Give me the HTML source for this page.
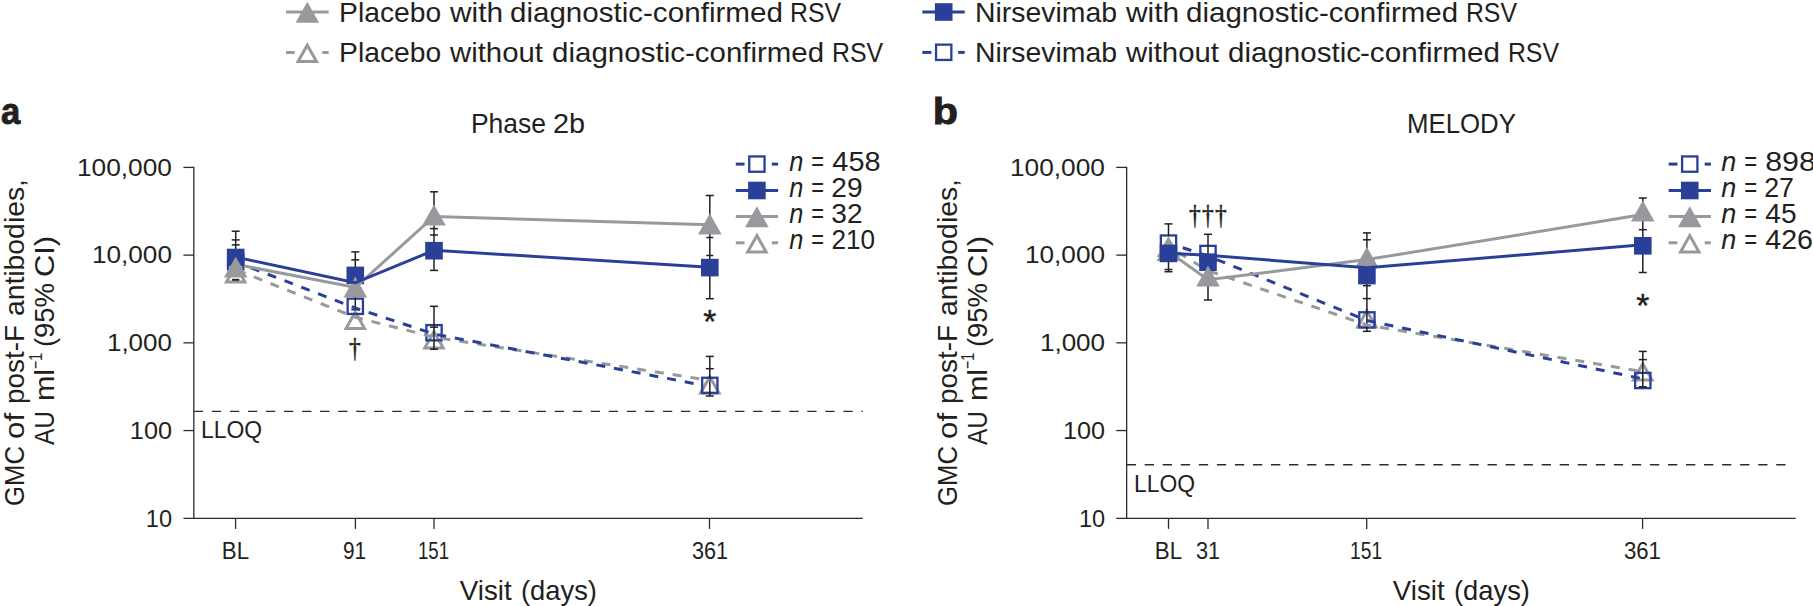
<!DOCTYPE html>
<html lang="en"><head><meta charset="utf-8"><title>GMC of post-F antibodies</title>
<style>html,body{margin:0;padding:0;background:#fff}svg{display:block}text{font-family:"Liberation Sans",sans-serif;fill:#231f20}</style>
</head><body>
<svg width="1813" height="606" viewBox="0 0 1813 606">
<rect width="1813" height="606" fill="#fff"/>
<line x1="286" y1="11.9" x2="328.6" y2="11.9" stroke="#98999c" stroke-width="3.0"/><polygon points="307.30,1.70 319.10,22.70 295.50,22.70" fill="#98999c"/><line x1="286" y1="52.5" x2="294.7" y2="52.5" stroke="#98999c" stroke-width="3.0"/><line x1="322.3" y1="52.5" x2="328.6" y2="52.5" stroke="#98999c" stroke-width="3.0"/><polygon points="307.30,45.16 316.54,61.60 298.06,61.60" fill="none" stroke="#98999c" stroke-width="3.0" stroke-linejoin="miter"/><line x1="922.3" y1="11.9" x2="964.7" y2="11.9" stroke="#2a3f98" stroke-width="3.0"/><rect x="934.90" y="3.20" width="17.6" height="17.6" fill="#2a3f98"/><line x1="922.3" y1="52.4" x2="931.4" y2="52.4" stroke="#2a3f98" stroke-width="3.0"/><line x1="958.2" y1="52.4" x2="964.7" y2="52.4" stroke="#2a3f98" stroke-width="3.0"/><rect x="936.05" y="44.65" width="15.30" height="15.30" fill="none" stroke="#2a3f98" stroke-width="2.3"/>
<g stroke="#2e2a2b" stroke-width="1.3" fill="none"><line x1="193.80" y1="166.8" x2="193.80" y2="518.3"/><line x1="183.40" y1="518.3" x2="862.80" y2="518.3"/><line x1="183.40" y1="167.40" x2="193.80" y2="167.40"/><line x1="183.40" y1="255.12" x2="193.80" y2="255.12"/><line x1="183.40" y1="342.84" x2="193.80" y2="342.84"/><line x1="183.40" y1="430.56" x2="193.80" y2="430.56"/><line x1="235.60" y1="518.3" x2="235.60" y2="528.9"/><line x1="355.40" y1="518.3" x2="355.40" y2="528.9"/><line x1="434.00" y1="518.3" x2="434.00" y2="528.9"/><line x1="709.50" y1="518.3" x2="709.50" y2="528.9"/><line x1="193.80" y1="411.4" x2="862.80" y2="411.4" stroke-width="1.4" stroke-dasharray="9.3 8.744"/></g>
<g stroke="#2e2a2b" stroke-width="1.3" fill="none"><line x1="1126.65" y1="166.8" x2="1126.65" y2="518.3"/><line x1="1116.25" y1="518.3" x2="1795.65" y2="518.3"/><line x1="1116.25" y1="167.40" x2="1126.65" y2="167.40"/><line x1="1116.25" y1="255.12" x2="1126.65" y2="255.12"/><line x1="1116.25" y1="342.84" x2="1126.65" y2="342.84"/><line x1="1116.25" y1="430.56" x2="1126.65" y2="430.56"/><line x1="1168.50" y1="518.3" x2="1168.50" y2="528.9"/><line x1="1208.00" y1="518.3" x2="1208.00" y2="528.9"/><line x1="1366.70" y1="518.3" x2="1366.70" y2="528.9"/><line x1="1642.60" y1="518.3" x2="1642.60" y2="528.9"/><line x1="1126.65" y1="464.7" x2="1793.75" y2="464.7" stroke-width="1.4" stroke-dasharray="9.3 8.744"/></g>
<polygon points="235.70,265.66 244.94,282.10 226.46,282.10" fill="none" stroke="#98999c" stroke-width="3.0" stroke-linejoin="miter"/><polygon points="355.30,311.96 364.54,328.40 346.06,328.40" fill="none" stroke="#98999c" stroke-width="3.0" stroke-linejoin="miter"/><polygon points="434.00,331.46 443.24,347.90 424.76,347.90" fill="none" stroke="#98999c" stroke-width="3.0" stroke-linejoin="miter"/><polygon points="709.80,376.66 719.04,393.10 700.56,393.10" fill="none" stroke="#98999c" stroke-width="3.0" stroke-linejoin="miter"/><rect x="228.05" y="254.15" width="15.30" height="15.30" fill="none" stroke="#2a3f98" stroke-width="2.3"/><rect x="347.65" y="298.65" width="15.30" height="15.30" fill="none" stroke="#2a3f98" stroke-width="2.3"/><rect x="426.35" y="325.05" width="15.30" height="15.30" fill="none" stroke="#2a3f98" stroke-width="2.3"/><rect x="702.15" y="377.75" width="15.30" height="15.30" fill="none" stroke="#2a3f98" stroke-width="2.3"/><g stroke="#231f20" stroke-width="1.5"><line x1="235.70" y1="231.20" x2="235.70" y2="250.00"/><line x1="231.70" y1="231.20" x2="239.70" y2="231.20"/><line x1="231.70" y1="239.90" x2="239.70" y2="239.90"/><line x1="231.70" y1="244.90" x2="239.70" y2="244.90"/><line x1="232.1" y1="279.8" x2="239.29999999999998" y2="279.8" stroke-width="2"/><line x1="355.30" y1="251.90" x2="355.30" y2="268.00"/><line x1="351.30" y1="251.90" x2="359.30" y2="251.90"/><line x1="351.30" y1="259.90" x2="359.30" y2="259.90"/><line x1="355.30" y1="296.00" x2="355.30" y2="309.70"/><line x1="351.30" y1="309.70" x2="359.30" y2="309.70"/><line x1="434.00" y1="191.80" x2="434.00" y2="207.00"/><line x1="430.00" y1="191.80" x2="438.00" y2="191.80"/><line x1="434.00" y1="225.40" x2="434.00" y2="243.00"/><line x1="430.00" y1="228.60" x2="438.00" y2="228.60"/><line x1="430.00" y1="235.00" x2="438.00" y2="235.00"/><line x1="434.00" y1="258.00" x2="434.00" y2="270.40"/><line x1="430.00" y1="270.40" x2="438.00" y2="270.40"/><line x1="434.00" y1="306.30" x2="434.00" y2="349.20"/><line x1="430.00" y1="306.30" x2="438.00" y2="306.30"/><line x1="430.00" y1="327.20" x2="438.00" y2="327.20"/><line x1="430.00" y1="349.20" x2="438.00" y2="349.20"/><line x1="709.80" y1="195.50" x2="709.80" y2="216.00"/><line x1="705.80" y1="195.50" x2="713.80" y2="195.50"/><line x1="709.80" y1="233.00" x2="709.80" y2="260.00"/><line x1="706.30" y1="237.50" x2="713.30" y2="237.50"/><line x1="706.30" y1="255.50" x2="713.30" y2="255.50"/><line x1="709.80" y1="275.00" x2="709.80" y2="298.70"/><line x1="705.80" y1="298.70" x2="713.80" y2="298.70"/><line x1="709.80" y1="356.40" x2="709.80" y2="396.00"/><line x1="705.80" y1="356.40" x2="713.80" y2="356.40"/><line x1="705.80" y1="368.70" x2="713.80" y2="368.70"/><line x1="705.80" y1="396.00" x2="713.80" y2="396.00"/></g><rect x="226.90" y="248.70" width="17.6" height="17.6" fill="#2a3f98"/><polygon points="235.70,256.40 247.50,277.40 223.90,277.40" fill="#98999c"/><rect x="346.50" y="266.60" width="17.6" height="17.6" fill="#2a3f98"/><polygon points="355.30,276.60 367.10,297.60 343.50,297.60" fill="#98999c"/><polygon points="434.00,204.60 445.80,225.60 422.20,225.60" fill="#98999c"/><rect x="425.20" y="241.90" width="17.6" height="17.6" fill="#2a3f98"/><polygon points="709.80,213.60 721.60,234.60 698.00,234.60" fill="#98999c"/><rect x="701.00" y="258.80" width="17.6" height="17.6" fill="#2a3f98"/><polyline points="235.70,269.60 355.30,317.30 434.00,337.10 709.80,380.40" fill="none" stroke="#98999c" stroke-width="3.0" stroke-dasharray="9 9" stroke-dashoffset="16.5"/><polyline points="244.50,265.29 355.30,308.00 434.00,334.00 701.00,384.82" fill="none" stroke="#2a3f98" stroke-width="3.0" stroke-dasharray="9 9" stroke-dashoffset="11.13"/><polyline points="244.30,266.00 355.30,287.50 434.00,216.50 709.80,224.80" fill="none" stroke="#98999c" stroke-width="3.0"/><polyline points="244.30,258.90 355.30,282.80 434.00,250.30 709.80,267.20" fill="none" stroke="#2a3f98" stroke-width="3.0"/>
<polygon points="1168.50,239.16 1177.74,255.60 1159.26,255.60" fill="none" stroke="#98999c" stroke-width="3.0" stroke-linejoin="miter"/><polygon points="1366.90,310.66 1376.14,327.10 1357.66,327.10" fill="none" stroke="#98999c" stroke-width="3.0" stroke-linejoin="miter"/><polygon points="1642.80,363.66 1652.04,380.10 1633.56,380.10" fill="none" stroke="#98999c" stroke-width="3.0" stroke-linejoin="miter"/><polygon points="1168.50,240.00 1180.30,261.00 1156.70,261.00" fill="#98999c"/><rect x="1160.85" y="235.45" width="15.30" height="15.30" fill="none" stroke="#2a3f98" stroke-width="2.3"/><rect x="1200.35" y="245.85" width="15.30" height="15.30" fill="none" stroke="#2a3f98" stroke-width="2.3"/><rect x="1359.25" y="312.25" width="15.30" height="15.30" fill="none" stroke="#2a3f98" stroke-width="2.3"/><rect x="1635.15" y="372.85" width="15.30" height="15.30" fill="none" stroke="#2a3f98" stroke-width="2.3"/><g stroke="#231f20" stroke-width="1.5"><line x1="1168.50" y1="223.90" x2="1168.50" y2="236.00"/><line x1="1164.50" y1="223.90" x2="1172.50" y2="223.90"/><line x1="1168.50" y1="260.00" x2="1168.50" y2="271.70"/><line x1="1164.50" y1="269.50" x2="1172.50" y2="269.50"/><line x1="1164.50" y1="271.70" x2="1172.50" y2="271.70"/><line x1="1208.00" y1="234.30" x2="1208.00" y2="255.00"/><line x1="1204.00" y1="234.30" x2="1212.00" y2="234.30"/><line x1="1208.00" y1="285.00" x2="1208.00" y2="300.00"/><line x1="1204.00" y1="300.00" x2="1212.00" y2="300.00"/><line x1="1366.90" y1="232.90" x2="1366.90" y2="249.00"/><line x1="1362.90" y1="232.90" x2="1370.90" y2="232.90"/><line x1="1362.90" y1="239.80" x2="1370.90" y2="239.80"/><line x1="1366.90" y1="283.00" x2="1366.90" y2="331.30"/><line x1="1362.90" y1="285.70" x2="1370.90" y2="285.70"/><line x1="1362.90" y1="298.60" x2="1370.90" y2="298.60"/><line x1="1362.90" y1="331.30" x2="1370.90" y2="331.30"/><line x1="1642.80" y1="198.00" x2="1642.80" y2="203.00"/><line x1="1638.80" y1="198.00" x2="1646.80" y2="198.00"/><line x1="1642.80" y1="220.00" x2="1642.80" y2="238.00"/><line x1="1638.80" y1="229.70" x2="1646.80" y2="229.70"/><line x1="1642.80" y1="253.00" x2="1642.80" y2="272.50"/><line x1="1638.80" y1="272.50" x2="1646.80" y2="272.50"/><line x1="1642.80" y1="351.40" x2="1642.80" y2="386.80"/><line x1="1638.80" y1="351.40" x2="1646.80" y2="351.40"/><line x1="1638.80" y1="359.60" x2="1646.80" y2="359.60"/><line x1="1638.80" y1="386.80" x2="1646.80" y2="386.80"/></g><polyline points="1168.50,246.50 1208.00,270.70 1366.90,325.00 1642.80,371.60" fill="none" stroke="#98999c" stroke-width="3.0" stroke-dasharray="9 9" stroke-dashoffset="6.4"/><polyline points="1177.40,246.00 1208.00,256.00 1366.90,320.50 1642.80,378.90" fill="none" stroke="#2a3f98" stroke-width="3.0" stroke-dasharray="9 9" stroke-dashoffset="12.36"/><polyline points="1168.50,251.60 1208.00,279.80 1366.90,259.60 1642.80,214.60" fill="none" stroke="#98999c" stroke-width="3.0"/><polygon points="1366.90,246.90 1378.70,267.90 1355.10,267.90" fill="#98999c"/><polygon points="1642.80,200.60 1654.60,221.60 1631.00,221.60" fill="#98999c"/><polyline points="1168.50,253.30 1208.00,255.30 1366.90,267.80 1642.80,244.80" fill="none" stroke="#2a3f98" stroke-width="3.0"/><rect x="1159.70" y="244.60" width="17.6" height="17.6" fill="#2a3f98"/><rect x="1199.20" y="253.40" width="17.6" height="17.6" fill="#2a3f98"/><polygon points="1208.00,265.60 1219.80,286.60 1196.20,286.60" fill="#98999c"/><rect x="1358.10" y="266.80" width="17.6" height="17.6" fill="#2a3f98"/><rect x="1634.00" y="237.00" width="17.6" height="17.6" fill="#2a3f98"/>
<line x1="735.8" y1="164.1" x2="744.5999999999999" y2="164.1" stroke="#2a3f98" stroke-width="3.0"/><line x1="771.8000000000001" y1="164.1" x2="778.1" y2="164.1" stroke="#2a3f98" stroke-width="3.0"/><rect x="749.25" y="156.45" width="15.30" height="15.30" fill="none" stroke="#2a3f98" stroke-width="2.3"/><line x1="735.8" y1="190.5" x2="778.1" y2="190.5" stroke="#2a3f98" stroke-width="3.0"/><rect x="748.10" y="181.70" width="17.6" height="17.6" fill="#2a3f98"/><line x1="735.8" y1="216.6" x2="778.1" y2="216.6" stroke="#98999c" stroke-width="3.0"/><polygon points="756.90,206.30 768.70,227.30 745.10,227.30" fill="#98999c"/><line x1="735.8" y1="242.8" x2="744.5999999999999" y2="242.8" stroke="#98999c" stroke-width="3.0"/><line x1="771.8000000000001" y1="242.8" x2="778.1" y2="242.8" stroke="#98999c" stroke-width="3.0"/><polygon points="756.90,235.56 766.14,252.00 747.66,252.00" fill="none" stroke="#98999c" stroke-width="3.0" stroke-linejoin="miter"/>
<line x1="1668.65" y1="164.1" x2="1677.45" y2="164.1" stroke="#2a3f98" stroke-width="3.0"/><line x1="1704.65" y1="164.1" x2="1710.95" y2="164.1" stroke="#2a3f98" stroke-width="3.0"/><rect x="1682.10" y="156.45" width="15.30" height="15.30" fill="none" stroke="#2a3f98" stroke-width="2.3"/><line x1="1668.65" y1="190.5" x2="1710.95" y2="190.5" stroke="#2a3f98" stroke-width="3.0"/><rect x="1680.95" y="181.70" width="17.6" height="17.6" fill="#2a3f98"/><line x1="1668.65" y1="216.6" x2="1710.95" y2="216.6" stroke="#98999c" stroke-width="3.0"/><polygon points="1689.75,206.30 1701.55,227.30 1677.95,227.30" fill="#98999c"/><line x1="1668.65" y1="242.8" x2="1677.45" y2="242.8" stroke="#98999c" stroke-width="3.0"/><line x1="1704.65" y1="242.8" x2="1710.95" y2="242.8" stroke="#98999c" stroke-width="3.0"/><polygon points="1689.75,235.56 1698.99,252.00 1680.51,252.00" fill="none" stroke="#98999c" stroke-width="3.0" stroke-linejoin="miter"/>
<text id="lg1" y="21.50" font-size="27.6" ><tspan id="lg1a" x="339.06" textLength="102.10" lengthAdjust="spacingAndGlyphs" >Placebo</tspan> <tspan id="lg1b" x="450.00" textLength="53.06" lengthAdjust="spacingAndGlyphs" >with</tspan> <tspan id="lg1c" x="510.00" textLength="133.04" lengthAdjust="spacingAndGlyphs" >diagnostic</tspan><tspan id="lg1d" x="643.00" textLength="140.05" lengthAdjust="spacingAndGlyphs" >-confirmed</tspan> <tspan id="lg1e" x="789.96" textLength="51.07" lengthAdjust="spacingAndGlyphs" >RSV</tspan></text>
<text id="lg2" y="61.90" font-size="27.6" ><tspan id="lg2a" x="339.06" textLength="102.10" lengthAdjust="spacingAndGlyphs" >Placebo</tspan> <tspan id="lg2b" x="450.00" textLength="93.00" lengthAdjust="spacingAndGlyphs" >without</tspan> <tspan id="lg2c" x="551.99" textLength="133.03" lengthAdjust="spacingAndGlyphs" >diagnostic</tspan><tspan id="lg2d" x="685.02" textLength="139.06" lengthAdjust="spacingAndGlyphs" >-confirmed</tspan> <tspan id="lg2e" x="831.97" textLength="51.13" lengthAdjust="spacingAndGlyphs" >RSV</tspan></text>
<text id="lg3" y="21.50" font-size="27.6" ><tspan id="lg3a" x="975.02" textLength="141.99" lengthAdjust="spacingAndGlyphs" >Nirsevimab</tspan> <tspan id="lg3b" x="1126.00" textLength="53.08" lengthAdjust="spacingAndGlyphs" >with</tspan> <tspan id="lg3c" x="1185.98" textLength="133.04" lengthAdjust="spacingAndGlyphs" >diagnostic</tspan><tspan id="lg3d" x="1318.99" textLength="139.03" lengthAdjust="spacingAndGlyphs" >-confirmed</tspan> <tspan id="lg3e" x="1465.93" textLength="51.08" lengthAdjust="spacingAndGlyphs" >RSV</tspan></text>
<text id="lg4" y="61.90" font-size="27.6" ><tspan id="lg4a" x="975.02" textLength="141.99" lengthAdjust="spacingAndGlyphs" >Nirsevimab</tspan> <tspan id="lg4b" x="1126.00" textLength="93.00" lengthAdjust="spacingAndGlyphs" >without</tspan> <tspan id="lg4c" x="1227.96" textLength="133.04" lengthAdjust="spacingAndGlyphs" >diagnostic</tspan><tspan id="lg4d" x="1360.00" textLength="140.05" lengthAdjust="spacingAndGlyphs" >-confirmed</tspan> <tspan id="lg4e" x="1507.91" textLength="51.12" lengthAdjust="spacingAndGlyphs" >RSV</tspan></text>
<text id="pa" y="123.80" font-size="37.6" font-weight="bold" stroke="#231f20" stroke-width="0.9"><tspan id="pa0" x="0.91" textLength="19.25" lengthAdjust="spacingAndGlyphs" >a</tspan></text>
<text id="pb" y="123.80" font-size="37.6" font-weight="bold" stroke="#231f20" stroke-width="0.9"><tspan id="pb0" x="932.88" textLength="25.26" lengthAdjust="spacingAndGlyphs" >b</tspan></text>
<text id="ta" y="133.10" font-size="27.6" ><tspan id="ta0" x="470.93" textLength="75.12" lengthAdjust="spacingAndGlyphs" >Phase</tspan> <tspan id="ta1" x="552.98" textLength="32.07" lengthAdjust="spacingAndGlyphs" >2b</tspan></text>
<text id="tb" y="133.10" font-size="27.6" ><tspan id="tb0" x="1406.95" textLength="109.02" lengthAdjust="spacingAndGlyphs" >MELODY</tspan></text>
<text id="xa" y="599.70" font-size="27.6" ><tspan id="xa0" x="459.77" textLength="51.88" lengthAdjust="spacingAndGlyphs" >Visit</tspan> <tspan id="xa1" x="520.96" textLength="76.03" lengthAdjust="spacingAndGlyphs" >(days)</tspan></text>
<text id="xb" y="599.70" font-size="27.6" ><tspan id="xb0" x="1392.80" textLength="51.84" lengthAdjust="spacingAndGlyphs" >Visit</tspan> <tspan id="xb1" x="1454.02" textLength="75.94" lengthAdjust="spacingAndGlyphs" >(days)</tspan></text>
<text id="lqa" y="438.10" font-size="24.2" ><tspan id="lqa0" x="201.04" textLength="61.05" lengthAdjust="spacingAndGlyphs" >LLOQ</tspan></text>
<text id="lqb" y="491.50" font-size="24.2" ><tspan id="lqb0" x="1134.00" textLength="61.06" lengthAdjust="spacingAndGlyphs" >LLOQ</tspan></text>
<text id="ya0" y="175.70" font-size="23.3" ><tspan id="ya0_" x="76.93" textLength="95.09" lengthAdjust="spacingAndGlyphs" >100,000</tspan></text>
<text id="ya1" y="263.42" font-size="23.3" ><tspan id="ya1_" x="91.93" textLength="80.07" lengthAdjust="spacingAndGlyphs" >10,000</tspan></text>
<text id="ya2" y="351.14" font-size="23.3" ><tspan id="ya2_" x="106.93" textLength="65.09" lengthAdjust="spacingAndGlyphs" >1,000</tspan></text>
<text id="ya3" y="438.86" font-size="23.3" ><tspan id="ya3_" x="129.88" textLength="42.15" lengthAdjust="spacingAndGlyphs" >100</tspan></text>
<text id="ya4" y="526.58" font-size="23.3" ><tspan id="ya4_" x="145.87" textLength="26.18" lengthAdjust="spacingAndGlyphs" >10</tspan></text>
<text id="yb0" y="175.70" font-size="23.3" ><tspan id="yb0_" x="1009.92" textLength="94.98" lengthAdjust="spacingAndGlyphs" >100,000</tspan></text>
<text id="yb1" y="263.42" font-size="23.3" ><tspan id="yb1_" x="1024.96" textLength="80.09" lengthAdjust="spacingAndGlyphs" >10,000</tspan></text>
<text id="yb2" y="351.14" font-size="23.3" ><tspan id="yb2_" x="1039.95" textLength="65.12" lengthAdjust="spacingAndGlyphs" >1,000</tspan></text>
<text id="yb3" y="438.86" font-size="23.3" ><tspan id="yb3_" x="1062.95" textLength="42.07" lengthAdjust="spacingAndGlyphs" >100</tspan></text>
<text id="yb4" y="526.58" font-size="23.3" ><tspan id="yb4_" x="1078.93" textLength="26.16" lengthAdjust="spacingAndGlyphs" >10</tspan></text>
<text id="xtaBL" y="558.70" font-size="23.3" ><tspan id="xtaBL_" x="221.82" textLength="27.28" lengthAdjust="spacingAndGlyphs" >BL</tspan></text>
<text id="xta91" y="558.70" font-size="23.3" ><tspan id="xta91_" x="342.99" textLength="23.10" lengthAdjust="spacingAndGlyphs" >91</tspan></text>
<text id="xta151" y="558.70" font-size="23.3" ><tspan id="xta151_" x="417.98" textLength="31.07" lengthAdjust="spacingAndGlyphs" >151</tspan></text>
<text id="xta361" y="558.70" font-size="23.3" ><tspan id="xta361_" x="691.93" textLength="36.14" lengthAdjust="spacingAndGlyphs" >361</tspan></text>
<text id="xtbBL" y="558.70" font-size="23.3" ><tspan id="xtbBL_" x="1154.82" textLength="27.28" lengthAdjust="spacingAndGlyphs" >BL</tspan></text>
<text id="xtb31" y="558.70" font-size="23.3" ><tspan id="xtb31_" x="1195.93" textLength="24.20" lengthAdjust="spacingAndGlyphs" >31</tspan></text>
<text id="xtb151" y="558.70" font-size="23.3" ><tspan id="xtb151_" x="1350.00" textLength="32.11" lengthAdjust="spacingAndGlyphs" >151</tspan></text>
<text id="xtb361" y="558.70" font-size="23.3" ><tspan id="xtb361_" x="1623.94" textLength="37.03" lengthAdjust="spacingAndGlyphs" >361</tspan></text>
<text id="na0" y="170.70" font-size="27.6" ><tspan id="na0n" x="789.18" textLength="14.12" lengthAdjust="spacingAndGlyphs" font-style="italic">n</tspan> <tspan id="na0e" x="811.34" textLength="12.77" lengthAdjust="spacingAndGlyphs" >=</tspan> <tspan id="na0v" x="832.37" textLength="48.26" lengthAdjust="spacingAndGlyphs" >458</tspan></text>
<text id="na1" y="196.90" font-size="27.6" ><tspan id="na1n" x="789.18" textLength="14.12" lengthAdjust="spacingAndGlyphs" font-style="italic">n</tspan> <tspan id="na1e" x="811.34" textLength="12.77" lengthAdjust="spacingAndGlyphs" >=</tspan> <tspan id="na1v" x="831.32" textLength="31.22" lengthAdjust="spacingAndGlyphs" >29</tspan></text>
<text id="na2" y="223.10" font-size="27.6" ><tspan id="na2n" x="789.18" textLength="14.12" lengthAdjust="spacingAndGlyphs" font-style="italic">n</tspan> <tspan id="na2e" x="811.34" textLength="12.77" lengthAdjust="spacingAndGlyphs" >=</tspan> <tspan id="na2v" x="831.30" textLength="31.30" lengthAdjust="spacingAndGlyphs" >32</tspan></text>
<text id="na3" y="249.30" font-size="27.6" ><tspan id="na3n" x="789.18" textLength="14.12" lengthAdjust="spacingAndGlyphs" font-style="italic">n</tspan> <tspan id="na3e" x="811.34" textLength="12.77" lengthAdjust="spacingAndGlyphs" >=</tspan> <tspan id="na3v" x="831.38" textLength="43.57" lengthAdjust="spacingAndGlyphs" >210</tspan></text>
<text id="nb0" y="170.70" font-size="27.6" ><tspan id="nb0n" x="1721.19" textLength="15.04" lengthAdjust="spacingAndGlyphs" font-style="italic">n</tspan> <tspan id="nb0e" x="1744.25" textLength="12.94" lengthAdjust="spacingAndGlyphs" >=</tspan> <tspan id="nb0v" x="1765.22" textLength="50.68" lengthAdjust="spacingAndGlyphs" >898</tspan></text>
<text id="nb1" y="196.90" font-size="27.6" ><tspan id="nb1n" x="1721.19" textLength="15.04" lengthAdjust="spacingAndGlyphs" font-style="italic">n</tspan> <tspan id="nb1e" x="1744.25" textLength="12.94" lengthAdjust="spacingAndGlyphs" >=</tspan> <tspan id="nb1v" x="1764.18" textLength="29.75" lengthAdjust="spacingAndGlyphs" >27</tspan></text>
<text id="nb2" y="223.10" font-size="27.6" ><tspan id="nb2n" x="1721.19" textLength="15.04" lengthAdjust="spacingAndGlyphs" font-style="italic">n</tspan> <tspan id="nb2e" x="1744.25" textLength="12.94" lengthAdjust="spacingAndGlyphs" >=</tspan> <tspan id="nb2v" x="1765.38" textLength="31.27" lengthAdjust="spacingAndGlyphs" >45</tspan></text>
<text id="nb3" y="249.30" font-size="27.6" ><tspan id="nb3n" x="1721.19" textLength="15.04" lengthAdjust="spacingAndGlyphs" font-style="italic">n</tspan> <tspan id="nb3e" x="1744.25" textLength="12.94" lengthAdjust="spacingAndGlyphs" >=</tspan> <tspan id="nb3v" x="1765.32" textLength="47.69" lengthAdjust="spacingAndGlyphs" >426</tspan></text>
<text id="v1a" y="0.00" font-size="27.6" transform="translate(23.80,0) rotate(-90)" ><tspan id="v1a0" x="-506.01" textLength="60.04" lengthAdjust="spacingAndGlyphs" >GMC</tspan> <tspan id="v1a1" x="-439.00" textLength="26.07" lengthAdjust="spacingAndGlyphs" >of</tspan> <tspan id="v1a2" x="-403.97" textLength="79.06" lengthAdjust="spacingAndGlyphs" >post-F</tspan> <tspan id="v1a3" x="-316.05" textLength="137.00" lengthAdjust="spacingAndGlyphs" >antibodies,</tspan></text>
<text id="v2a" y="0.00" font-size="27.6" transform="translate(54.20,0) rotate(-90)" ><tspan id="v2a0" x="-445.00" textLength="34.03" lengthAdjust="spacingAndGlyphs" >AU</tspan> <tspan id="v2a1" x="-401.07" textLength="32.19" lengthAdjust="spacingAndGlyphs" >ml</tspan><tspan id="v2a2" x="-369.09" textLength="16.20" lengthAdjust="spacingAndGlyphs" font-size="19" dy="-12.7">−1</tspan> <tspan id="v2a3" x="-347.08" textLength="64.09" lengthAdjust="spacingAndGlyphs" dy="12.7">(95%</tspan> <tspan id="v2a4" x="-277.14" textLength="41.21" lengthAdjust="spacingAndGlyphs" >CI)</tspan></text>
<text id="v1b" y="0.00" font-size="27.6" transform="translate(956.65,0) rotate(-90)" ><tspan id="v1b0" x="-506.01" textLength="60.04" lengthAdjust="spacingAndGlyphs" >GMC</tspan> <tspan id="v1b1" x="-439.00" textLength="26.07" lengthAdjust="spacingAndGlyphs" >of</tspan> <tspan id="v1b2" x="-403.97" textLength="79.06" lengthAdjust="spacingAndGlyphs" >post-F</tspan> <tspan id="v1b3" x="-316.05" textLength="137.00" lengthAdjust="spacingAndGlyphs" >antibodies,</tspan></text>
<text id="v2b" y="0.00" font-size="27.6" transform="translate(987.05,0) rotate(-90)" ><tspan id="v2b0" x="-445.00" textLength="34.03" lengthAdjust="spacingAndGlyphs" >AU</tspan> <tspan id="v2b1" x="-401.07" textLength="32.19" lengthAdjust="spacingAndGlyphs" >ml</tspan><tspan id="v2b2" x="-369.09" textLength="16.20" lengthAdjust="spacingAndGlyphs" font-size="19" dy="-12.7">−1</tspan> <tspan id="v2b3" x="-347.08" textLength="64.09" lengthAdjust="spacingAndGlyphs" dy="12.7">(95%</tspan> <tspan id="v2b4" x="-277.14" textLength="41.21" lengthAdjust="spacingAndGlyphs" >CI)</tspan></text>

<text id="dg1" transform="translate(354.9,357.1) scale(1,1.157)" font-size="23.5" text-anchor="middle" stroke="#231f20" stroke-width="0.45" style="font-family:'Liberation Serif',serif">†</text>
<text id="dg3" transform="translate(1208.5,224.2) scale(1,1.157)" font-size="23.5" text-anchor="middle" letter-spacing="1.25" stroke="#231f20" stroke-width="0.45" style="font-family:'Liberation Serif',serif">†††</text>
<text id="as1" x="709.8" y="333.4" font-size="33.5" text-anchor="middle" stroke="#231f20" stroke-width="0.4">*</text>
<text id="as2" x="1642.8" y="317.4" font-size="33.5" text-anchor="middle" stroke="#231f20" stroke-width="0.4">*</text>
</svg>
</body></html>
